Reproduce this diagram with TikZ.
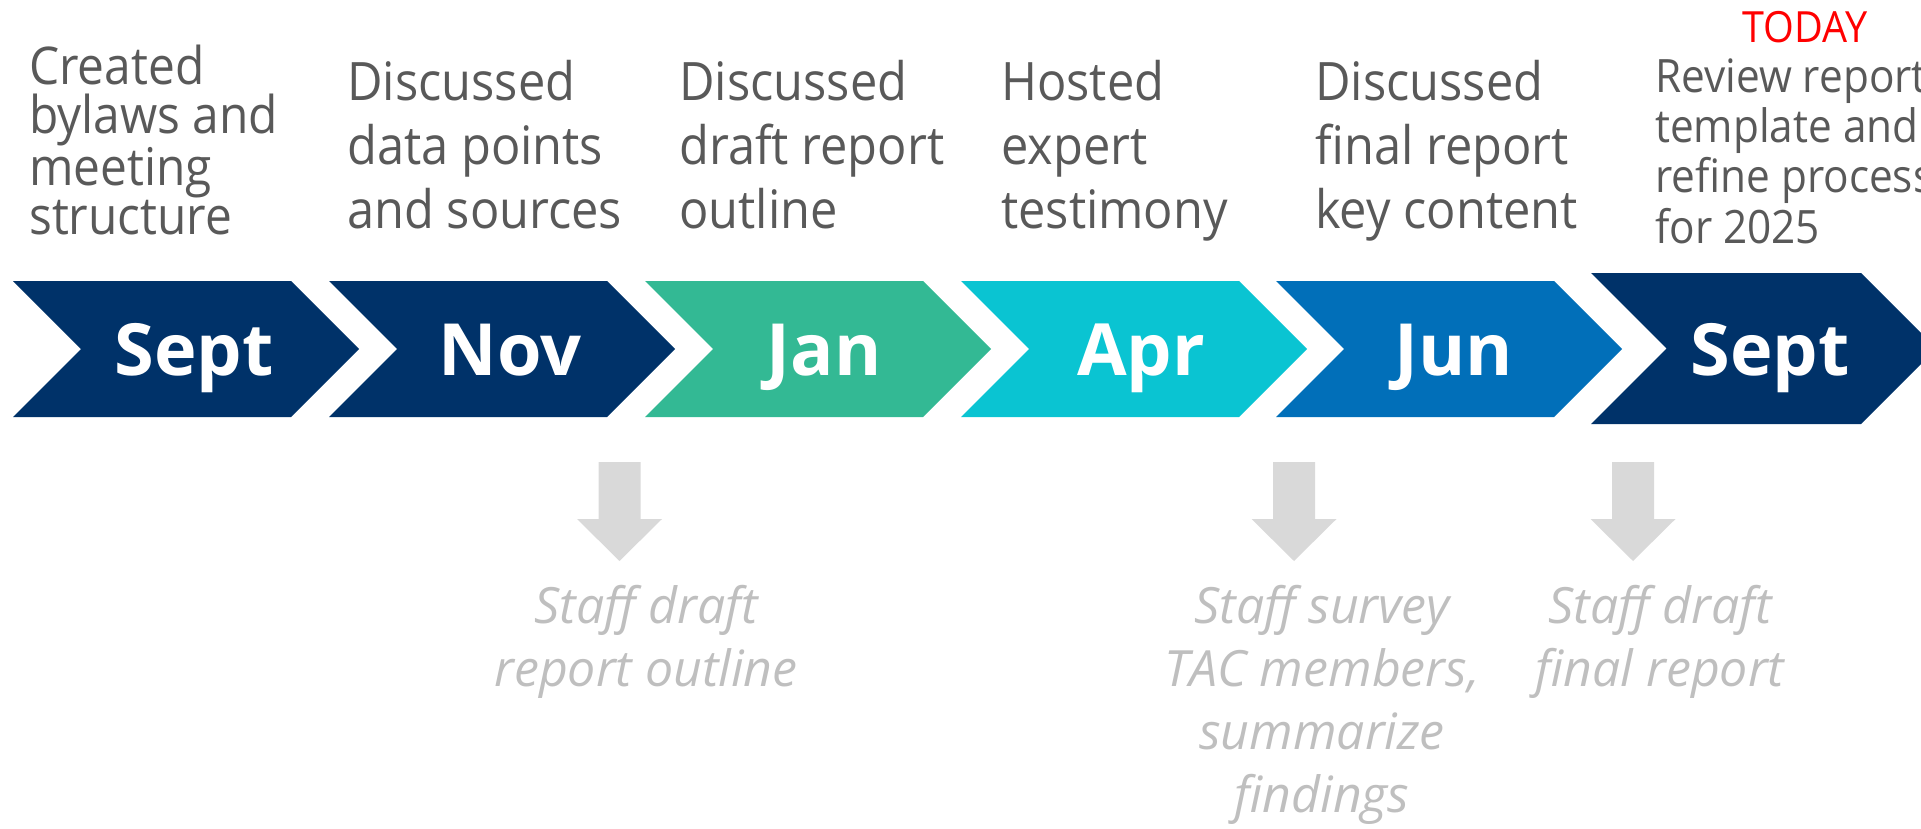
\documentclass[tikz,border=0pt]{standalone}
\usepackage{fontspec}
\setmainfont{Open Sans}
\newfontfamily\slimfont{Open Sans}[FakeStretch=0.92]
\definecolor{navy}{RGB}{0,50,105}
\definecolor{jangreen}{RGB}{51,185,148}
\definecolor{aprcyan}{RGB}{10,196,210}
\definecolor{junblue}{RGB}{1,111,185}
\definecolor{txtgray}{RGB}{89,89,89}
\definecolor{notegray}{RGB}{191,191,191}
\definecolor{arrowgray}{RGB}{217,217,217}
\begin{document}
\begin{tikzpicture}[x=1pt, y=-1pt,
    month/.style={text=white, inner sep=0pt, anchor=base, font=\bfseries\fontsize{72}{86}\selectfont},
    did/.style={text=txtgray, inner sep=0pt, anchor=base west, align=left, font=\slimfont\fontsize{53}{64}\selectfont},
    todo/.style={text=notegray, inner sep=0pt, anchor=base, align=center, font=\itshape\fontsize{50}{63}\selectfont}]
    \useasboundingbox (0,0) rectangle (1921,829);
    \clip (0,0) rectangle (1921,829);
    \fill[navy] (13,281) -- (291,281) -- (359,349) -- (291,417) -- (13,417) -- (81,349) -- cycle; %% Sept
    \fill[navy] (329,281) -- (607,281) -- (675,349) -- (607,417) -- (329,417) -- (397,349) -- cycle; %% Nov
    \fill[jangreen] (645,281) -- (923,281) -- (991,349) -- (923,417) -- (645,417) -- (713,349) -- cycle; %% Jan
    \fill[aprcyan] (961,281) -- (1239,281) -- (1307,349) -- (1239,417) -- (961,417) -- (1029,349) -- cycle; %% Apr
    \fill[junblue] (1276,281) -- (1554,281) -- (1622,349) -- (1554,417) -- (1276,417) -- (1344,349) -- cycle; %% Jun
    \fill[navy] (1591,273) -- (1861,273) -- (1936.5,348.5) -- (1861,424) -- (1591,424) -- (1666.5,348.5) -- cycle; %% Sept, today
    \node[month] (sept) at (194,375) {Sept};
    \node[month] (nov) at (510,375) {Nov};
    \node[month] (jan) at (824,375) {Jan};
    \node[month] (apr) at (1141,375) {Apr};
    \node[month] (jun) at (1454,375) {Jun};
    \node[month] (septnow) at (1770,375) {Sept};
    %% base = last line
    \node[did, font=\slimfont\fontsize{52}{49}\selectfont] (bylaws) at (29,234) {Created\\bylaws and\\meeting\\structure};
    \node[did] (points) at (347,229) {Discussed\\data points\\and sources};
    \node[did] (outline) at (679,229) {Discussed\\draft report\\outline};
    \node[did] (testimony) at (1001,229) {Hosted\\expert\\testimony};
    \node[did] (content) at (1315,229) {Discussed\\final report\\key content};
    \node[did, font=\slimfont\fontsize{46}{50}\selectfont] (review) at (1655,243) {Review report\\template and\\refine process\\for 2025};
    \node[text=red, inner sep=0pt, anchor=base, font=\slimfont\fontsize{43}{50}\selectfont] (today) at (1805,43) {TODAY};
    \fill[arrowgray] (598.5,462) -- (640.5,462) -- (640.5,519) -- (662,519) -- (619.5,561) -- (577,519) -- (598.5,519) -- cycle; %% down 1
    \fill[arrowgray] (1273,462) -- (1315,462) -- (1315,519) -- (1336.5,519) -- (1294,561) -- (1251.5,519) -- (1273,519) -- cycle; %% down 2
    \fill[arrowgray] (1612,462) -- (1654,462) -- (1654,519) -- (1675.5,519) -- (1633,561) -- (1590.5,519) -- (1612,519) -- cycle; %% down 3
    \node[todo] (draftoutline) at (646,686) {Staff draft\\report outline};
    \node[todo] (survey) at (1322,812) {Staff survey\\TAC members,\\summarize\\findings};
    \node[todo] (draftfinal) at (1660,686) {Staff draft\\final report};
\end{tikzpicture}
\end{document}
